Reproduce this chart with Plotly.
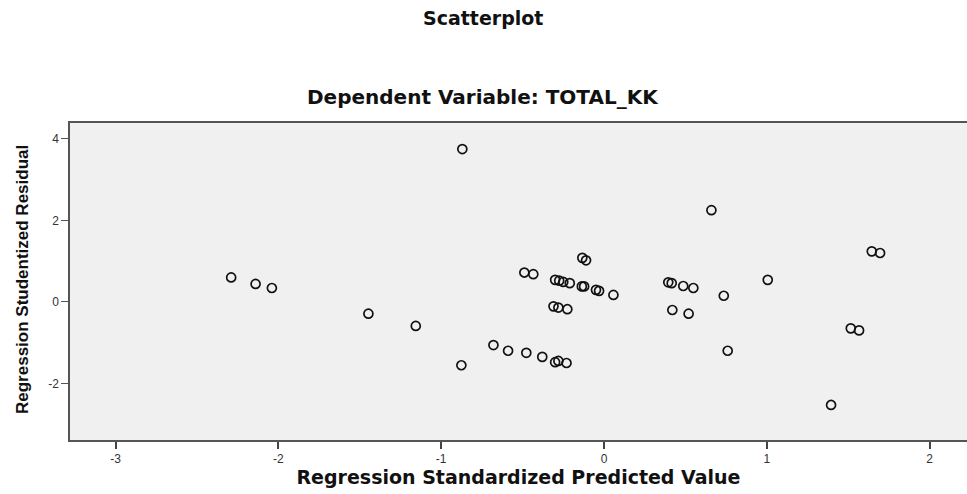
import plotly.graph_objects as go

pred_values = [-2.29, -2.14, -2.04, -1.447, -1.156, -0.87, -0.876, -0.679, -0.589, -0.477,
               -0.379, -0.30, -0.28, -0.23, -0.489, -0.434, -0.133, -0.11, -0.30, -0.275,
               -0.25, -0.21, -0.136, -0.122, -0.049, -0.03, 0.058, -0.31, -0.28, -0.225,
               0.395, 0.416, 0.487, 0.549, 0.66, 1.006, 0.736, 0.42, 0.52, 0.76,
               1.516, 1.567, 1.645, 1.696, 1.395]
resid_values = [0.60, 0.44, 0.34, -0.29, -0.59, 3.75, -1.555, -1.06, -1.20, -1.25,
                -1.35, -1.48, -1.45, -1.50, 0.72, 0.68, 1.08, 1.02, 0.54, 0.52,
                0.49, 0.46, 0.38, 0.38, 0.295, 0.27, 0.17, -0.11, -0.14, -0.18,
                0.48, 0.46, 0.39, 0.34, 2.25, 0.54, 0.15, -0.20, -0.29, -1.20,
                -0.65, -0.70, 1.24, 1.20, -2.53]
x_ticks = [-3, -2, -1, 0, 1, 2]
y_ticks = [-2, 0, 2, 4]

W, H = 967, 494
L, R, T, B = 70, 0, 123, 54
WIDE = "DejaVu Sans, Verdana, sans-serif"
NARROW = "Liberation Sans Narrow, Arial Narrow, Liberation Sans, sans-serif"

fig = go.Figure()
fig.add_trace(go.Scatter(
    x=pred_values, y=resid_values, mode="markers",
    marker=dict(symbol="circle-open", size=9, color="#111111", line=dict(width=1.7, color="#111111")),
    showlegend=False, hoverinfo="x+y"))

fig.update_layout(
    width=W, height=H,
    margin=dict(l=L, r=R, t=T, b=B, pad=0),
    paper_bgcolor="white", plot_bgcolor="#f0f0f0",
    font=dict(family="Liberation Sans, Arial, sans-serif", color="#222"),
    xaxis=dict(range=[-3.28, 2.23], tickvals=x_ticks, ticktext=[str(v) for v in x_ticks],
               showgrid=False, zeroline=False, showline=True, mirror=True,
               linecolor="#555555", linewidth=1.5,
               ticks="outside", ticklen=7, tickwidth=2, tickcolor="#444444",
               tickfont=dict(size=12, color="#333333"),
               title=dict(text="<b>Regression Standardized Predicted Value</b>",
                          font=dict(size=19, family=WIDE, color="#111111"), standoff=6)),
    yaxis=dict(range=[-3.39, 4.39], tickvals=y_ticks, ticktext=[str(v) for v in y_ticks],
               showgrid=False, zeroline=False, showline=True, mirror=False,
               linecolor="#555555", linewidth=1.5,
               ticks="outside", ticklen=7, tickwidth=1, tickcolor="#555555",
               tickfont=dict(size=12, color="#333333")),
    annotations=[
        dict(text="<b>Scatterplot</b>", x=483 / W, y=1 - 18 / H, xref="paper", yref="paper",
             xanchor="center", yanchor="middle", showarrow=False,
             font=dict(size=19, family=WIDE, color="#111111")),
        dict(text="<b>Dependent Variable: TOTAL_KK</b>", x=483 / W, y=1 - 97 / H,
             xref="paper", yref="paper", xanchor="center", yanchor="middle", showarrow=False,
             font=dict(size=20, family=WIDE, color="#111111")),
        dict(text="<b>Regression Studentized Residual</b>", x=22 / W, y=1 - 280 / H,
             xref="paper", yref="paper", xanchor="center", yanchor="middle", showarrow=False,
             textangle=-90,
             font=dict(size=17, family=NARROW, color="#111111")),
    ],
)
# convert figure-pixel positions of annotations into plot-area (paper) fractions
for a in fig.layout.annotations:
    px_x = a.x * W
    px_y = (1 - a.y) * H
    a.x = (px_x - L) / (W - L - R)
    a.y = 1 - (px_y - T) / (H - T - B)

fig.write_html("out.html", config={"displayModeBar": False},
               post_script="document.body.style.margin='0px';")
